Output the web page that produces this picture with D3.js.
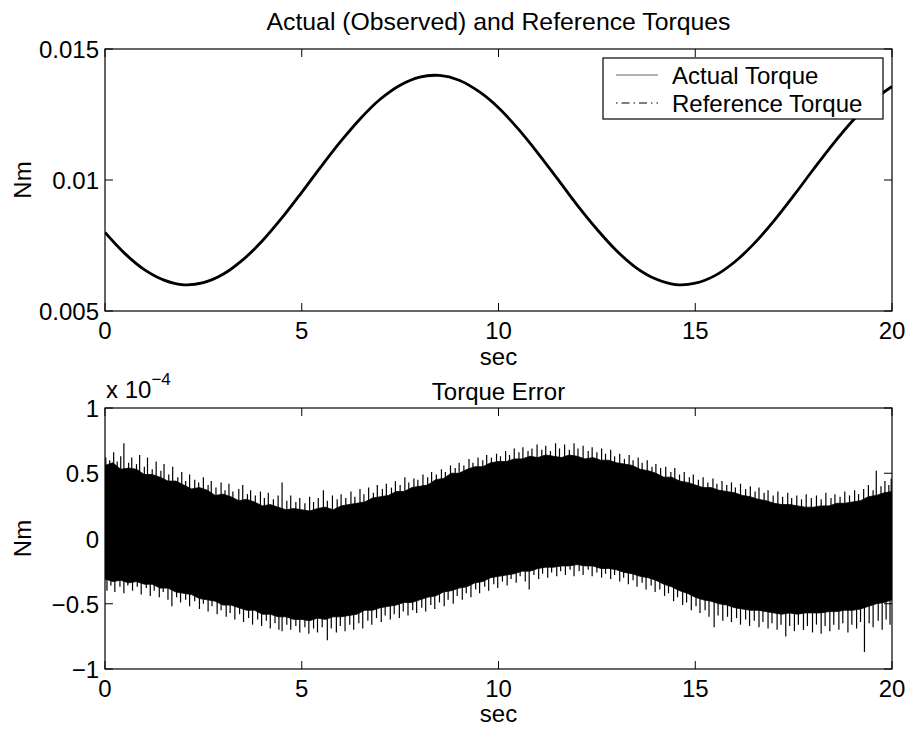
<!DOCTYPE html>
<html><head><meta charset="utf-8">
<script src="https://cdn.jsdelivr.net/npm/d3@7"></script>
<style>
html,body{margin:0;padding:0;background:#fff;}
svg text{font-family:"Liberation Sans",Arial,Helvetica,sans-serif;fill:#000;}
</style></head>
<body>
<svg id="chart" width="910" height="729"></svg>
<script>
// ---------- DATA ----------
const torqueTime = [0,0.5,1,1.5,2,2.5,3,3.5,4,4.5,5,5.5,6,6.5,7,7.5,8,8.5,9,9.5,10,10.5,11,11.5,12,12.5,13,13.5,14,14.5,15,15.5,16,16.5,17,17.5,18,18.5,19,19.5,20];
const actualTorque = [0.00800,0.00720,0.00658,0.00618,0.00600,0.00608,0.00640,0.00695,0.00768,0.00856,0.00953,0.01053,0.01149,0.01236,0.01309,0.01362,0.01393,0.01399,0.01381,0.01338,0.01276,0.01195,0.01103,0.01004,0.00904,0.00812,0.00730,0.00665,0.00622,0.00601,0.00606,0.00635,0.00687,0.00758,0.00844,0.00940,0.01040,0.01137,0.01226,0.01301,0.01357];
const referenceTorque = [0.00800,0.00720,0.00658,0.00618,0.00600,0.00608,0.00640,0.00695,0.00768,0.00856,0.00953,0.01053,0.01149,0.01236,0.01309,0.01362,0.01393,0.01399,0.01381,0.01338,0.01276,0.01195,0.01103,0.01004,0.00904,0.00812,0.00730,0.00665,0.00622,0.00601,0.00606,0.00635,0.00687,0.00758,0.00844,0.00940,0.01040,0.01137,0.01226,0.01301,0.01357];

// Torque error dense band edges (units of 1e-4 Nm), sampled every 0.2 s
const errorTimeStep = 0.2;
const errorUpper = [0.56,0.58,0.53,0.54,0.53,0.49,0.49,0.47,0.44,0.44,0.41,0.38,0.39,0.37,0.33,0.34,0.32,0.29,0.30,0.28,0.25,0.26,0.24,0.22,0.23,0.22,0.21,0.23,0.24,0.22,0.25,0.26,0.27,0.28,0.31,0.32,0.33,0.36,0.36,0.39,0.40,0.41,0.45,0.46,0.50,0.50,0.53,0.55,0.55,0.58,0.59,0.59,0.61,0.61,0.63,0.62,0.64,0.63,0.62,0.64,0.63,0.61,0.62,0.60,0.60,0.58,0.57,0.56,0.53,0.52,0.50,0.47,0.47,0.44,0.43,0.41,0.39,0.39,0.37,0.36,0.35,0.33,0.32,0.30,0.29,0.27,0.26,0.26,0.25,0.24,0.24,0.25,0.25,0.27,0.27,0.28,0.29,0.32,0.33,0.35,0.36];
const errorLower = [-0.31,-0.33,-0.32,-0.34,-0.33,-0.35,-0.35,-0.38,-0.38,-0.41,-0.42,-0.43,-0.46,-0.47,-0.48,-0.51,-0.51,-0.53,-0.55,-0.55,-0.58,-0.58,-0.60,-0.60,-0.62,-0.62,-0.63,-0.61,-0.62,-0.60,-0.60,-0.59,-0.58,-0.55,-0.55,-0.53,-0.52,-0.51,-0.49,-0.49,-0.47,-0.45,-0.44,-0.41,-0.40,-0.38,-0.37,-0.34,-0.33,-0.30,-0.29,-0.28,-0.27,-0.25,-0.25,-0.23,-0.22,-0.22,-0.21,-0.21,-0.20,-0.21,-0.21,-0.23,-0.23,-0.24,-0.26,-0.27,-0.29,-0.30,-0.32,-0.35,-0.37,-0.40,-0.42,-0.45,-0.47,-0.48,-0.50,-0.51,-0.53,-0.54,-0.55,-0.55,-0.56,-0.57,-0.58,-0.57,-0.58,-0.57,-0.57,-0.57,-0.56,-0.56,-0.55,-0.55,-0.54,-0.52,-0.50,-0.49,-0.47];

// Individual spikes reaching beyond the dense band
const spikeUpTime = [0.02,0.12,0.22,0.31,0.40,0.48,0.60,0.68,0.80,0.88,1.00,1.08,1.20,1.30,1.42,1.50,1.62,1.72,1.85,1.95,2.05,2.15,2.28,2.38,2.50,2.62,2.70,2.82,2.95,3.05,3.15,3.25,3.40,3.50,3.62,3.70,3.82,3.95,4.05,4.15,4.28,4.40,4.50,4.62,4.72,4.85,4.95,5.08,5.20,5.30,5.42,5.55,5.65,5.78,5.90,6.00,6.12,6.25,6.35,6.48,6.58,6.70,6.82,6.92,7.05,7.15,7.28,7.38,7.50,7.62,7.72,7.85,7.95,8.08,8.20,8.30,8.42,8.55,8.65,8.78,8.90,9.00,9.12,9.25,9.35,9.48,9.60,9.70,9.82,9.95,10.05,10.18,10.28,10.40,10.52,10.62,10.75,10.85,10.98,11.10,11.20,11.32,11.45,11.55,11.68,11.80,11.92,12.02,12.15,12.28,12.38,12.50,12.62,12.72,12.85,12.95,13.08,13.20,13.32,13.42,13.55,13.65,13.78,13.90,14.00,14.12,14.25,14.38,14.48,14.60,14.72,14.85,14.95,15.08,15.20,15.32,15.45,15.55,15.68,15.80,15.92,16.02,16.15,16.28,16.40,16.52,16.62,16.75,16.85,16.98,17.10,17.22,17.35,17.45,17.58,17.70,17.82,17.95,18.08,18.20,18.32,18.45,18.55,18.68,18.80,18.92,19.05,19.15,19.28,19.40,19.52,19.60,19.72,19.82,19.92,19.98];
const spikeUpValue = [0.62,0.60,0.66,0.59,0.63,0.73,0.58,0.62,0.57,0.64,0.55,0.62,0.53,0.59,0.52,0.57,0.49,0.55,0.47,0.51,0.44,0.49,0.45,0.43,0.47,0.41,0.44,0.39,0.43,0.37,0.42,0.36,0.38,0.41,0.34,0.37,0.33,0.36,0.31,0.35,0.30,0.33,0.43,0.29,0.33,0.28,0.31,0.27,0.32,0.28,0.31,0.37,0.29,0.33,0.30,0.34,0.31,0.36,0.32,0.38,0.34,0.39,0.35,0.41,0.38,0.42,0.39,0.44,0.41,0.47,0.43,0.46,0.45,0.49,0.47,0.51,0.49,0.53,0.51,0.56,0.54,0.58,0.56,0.61,0.58,0.62,0.60,0.64,0.62,0.65,0.63,0.67,0.64,0.69,0.66,0.70,0.67,0.69,0.72,0.68,0.71,0.67,0.73,0.69,0.72,0.68,0.73,0.69,0.71,0.67,0.70,0.66,0.69,0.65,0.68,0.63,0.65,0.61,0.64,0.60,0.62,0.58,0.60,0.55,0.57,0.54,0.55,0.51,0.54,0.49,0.51,0.47,0.49,0.45,0.47,0.43,0.46,0.42,0.44,0.41,0.43,0.39,0.42,0.38,0.40,0.36,0.39,0.35,0.37,0.33,0.36,0.32,0.35,0.31,0.33,0.30,0.34,0.31,0.33,0.30,0.35,0.31,0.34,0.32,0.36,0.33,0.37,0.34,0.38,0.41,0.37,0.52,0.40,0.44,0.41,0.46];
const spikeDownTime = [0.05,0.15,0.25,0.38,0.48,0.58,0.70,0.82,0.92,1.05,1.15,1.25,1.38,1.48,1.60,1.70,1.82,1.92,2.05,2.15,2.28,2.40,2.50,2.62,2.72,2.85,2.95,3.08,3.18,3.30,3.42,3.52,3.65,3.75,3.88,3.98,4.10,4.20,4.32,4.42,4.50,4.62,4.72,4.85,4.95,5.08,5.18,5.30,5.40,5.52,5.65,5.75,5.88,5.98,6.10,6.22,6.32,6.45,6.55,6.68,6.78,6.90,7.02,7.12,7.25,7.35,7.48,7.58,7.70,7.82,7.92,8.05,8.15,8.28,8.38,8.50,8.62,8.72,8.85,8.95,9.08,9.18,9.30,9.42,9.52,9.65,9.75,9.88,9.98,10.10,10.22,10.32,10.45,10.55,10.68,10.78,10.90,11.02,11.12,11.25,11.35,11.48,11.58,11.70,11.82,11.92,12.05,12.15,12.28,12.38,12.50,12.62,12.72,12.85,12.95,13.08,13.18,13.30,13.42,13.52,13.65,13.75,13.88,13.98,14.10,14.22,14.32,14.45,14.55,14.68,14.78,14.90,15.02,15.12,15.25,15.35,15.48,15.58,15.70,15.82,15.92,16.05,16.15,16.28,16.38,16.50,16.62,16.72,16.85,16.95,17.08,17.18,17.30,17.40,17.52,17.62,17.75,17.85,17.98,18.08,18.20,18.30,18.42,18.52,18.65,18.75,18.88,18.98,19.10,19.20,19.30,19.42,19.52,19.65,19.75,19.85,19.95];
const spikeDownValue = [-0.40,-0.36,-0.41,-0.37,-0.42,-0.36,-0.40,-0.37,-0.43,-0.38,-0.44,-0.40,-0.45,-0.41,-0.47,-0.52,-0.45,-0.49,-0.47,-0.52,-0.48,-0.54,-0.50,-0.56,-0.52,-0.58,-0.55,-0.60,-0.57,-0.62,-0.58,-0.64,-0.61,-0.66,-0.62,-0.67,-0.63,-0.69,-0.65,-0.70,-0.71,-0.66,-0.70,-0.67,-0.72,-0.68,-0.73,-0.69,-0.72,-0.68,-0.78,-0.69,-0.72,-0.67,-0.71,-0.66,-0.70,-0.65,-0.69,-0.63,-0.66,-0.61,-0.64,-0.59,-0.62,-0.58,-0.61,-0.56,-0.59,-0.55,-0.57,-0.53,-0.56,-0.51,-0.54,-0.49,-0.52,-0.47,-0.50,-0.44,-0.47,-0.42,-0.45,-0.39,-0.42,-0.37,-0.40,-0.35,-0.38,-0.33,-0.36,-0.31,-0.34,-0.29,-0.33,-0.39,-0.28,-0.31,-0.27,-0.30,-0.26,-0.29,-0.25,-0.28,-0.24,-0.29,-0.25,-0.28,-0.24,-0.29,-0.26,-0.30,-0.27,-0.31,-0.28,-0.33,-0.30,-0.35,-0.32,-0.37,-0.34,-0.39,-0.36,-0.41,-0.39,-0.44,-0.42,-0.48,-0.45,-0.51,-0.49,-0.55,-0.52,-0.57,-0.55,-0.60,-0.68,-0.59,-0.63,-0.60,-0.64,-0.61,-0.66,-0.62,-0.67,-0.63,-0.68,-0.64,-0.69,-0.65,-0.70,-0.66,-0.75,-0.67,-0.71,-0.66,-0.70,-0.67,-0.72,-0.66,-0.73,-0.67,-0.71,-0.66,-0.70,-0.65,-0.72,-0.66,-0.69,-0.64,-0.87,-0.65,-0.68,-0.63,-0.70,-0.62,-0.66];

const xTicks = [0,5,10,15,20];
const topYTicks = [0.005,0.01,0.015];
const topYTickLabels = ["0.005","0.01","0.015"];
const bottomYTicks = [-1,-0.5,0,0.5,1];
const bottomYTickLabels = ["\u22121","\u22120.5","0","0.5","1"];
const legendLabels = ["Actual Torque","Reference Torque"];

// ---------- LAYOUT ----------
const svg = d3.select("#chart");
const L = 105, R = 892;
const box1 = {t:49, b:311};
const box2 = {t:408, b:669};
const FS = 24;
const tickLen = 8;

function frame(g, x, y, yt, ytl, box){
  xTicks.forEach(v=>{
    g.append("line").attr("x1",x(v)).attr("x2",x(v)).attr("y1",box.b).attr("y2",box.b-tickLen).attr("stroke","#000");
    g.append("line").attr("x1",x(v)).attr("x2",x(v)).attr("y1",box.t).attr("y2",box.t+tickLen).attr("stroke","#000");
    g.append("text").attr("x",x(v)).attr("y",box.b+28).attr("text-anchor","middle").attr("font-size",FS).text(String(v));
  });
  yt.forEach((v,i)=>{
    g.append("line").attr("x1",L).attr("x2",L+tickLen).attr("y1",y(v)).attr("y2",y(v)).attr("stroke","#000");
    g.append("line").attr("x1",R).attr("x2",R-tickLen).attr("y1",y(v)).attr("y2",y(v)).attr("stroke","#000");
    g.append("text").attr("x",L-6).attr("y",y(v)+9).attr("text-anchor","end").attr("font-size",FS).text(ytl[i]);
  });
  g.append("rect").attr("x",L).attr("y",box.t).attr("width",R-L).attr("height",box.b-box.t)
    .attr("fill","none").attr("stroke","#000").attr("stroke-width",1.2);
}

const defs = svg.append("defs");

// ---------- TOP PLOT ----------
const x1 = d3.scaleLinear().domain([0,20]).range([L,R]);
const y1 = d3.scaleLinear().domain([0.005,0.015]).range([box1.b,box1.t]);
const g1 = svg.append("g");
defs.append("clipPath").attr("id","clip1").append("rect").attr("x",L).attr("y",box1.t).attr("width",R-L).attr("height",box1.b-box1.t);
const line1 = d3.line().x((d,i)=>x1(torqueTime[i])).y(d=>y1(d)).curve(d3.curveCatmullRom);
g1.append("path").attr("d",line1(actualTorque)).attr("fill","none").attr("stroke","#000").attr("stroke-width",2.8).attr("clip-path","url(#clip1)");
g1.append("path").attr("d",line1(referenceTorque)).attr("fill","none").attr("stroke","#000").attr("stroke-width",1.6)
  .attr("stroke-dasharray","8,3,1.5,3").attr("clip-path","url(#clip1)");
frame(g1,x1,y1,topYTicks,topYTickLabels,box1);
g1.append("text").attr("x",(L+R)/2).attr("y",30).attr("text-anchor","middle").attr("font-size",24.8).text("Actual (Observed) and Reference Torques");
g1.append("text").attr("x",(L+R)/2).attr("y",365).attr("text-anchor","middle").attr("font-size",FS).text("sec");
g1.append("text").attr("transform",`translate(31,${(box1.t+box1.b)/2}) rotate(-90)`).attr("text-anchor","middle").attr("font-size",FS).text("Nm");

// legend
const lg = g1.append("g");
lg.append("rect").attr("x",603).attr("y",58).attr("width",280).attr("height",61).attr("fill","#fff").attr("stroke","#000").attr("stroke-width",1.2);
const legY = [75,103];
lg.append("line").attr("x1",616).attr("x2",658).attr("y1",legY[0]).attr("y2",legY[0]).attr("stroke","#666").attr("stroke-width",1.2);
lg.append("line").attr("x1",616).attr("x2",658).attr("y1",legY[1]).attr("y2",legY[1]).attr("stroke","#000").attr("stroke-width",1.2).attr("stroke-dasharray","1.5,4,8,4");
legendLabels.forEach((t,i)=>{
  lg.append("text").attr("x",672).attr("y",legY[i]+8.5).attr("font-size",FS).text(t);
});

// ---------- BOTTOM PLOT ----------
const x2 = d3.scaleLinear().domain([0,20]).range([L,R]);
const y2 = d3.scaleLinear().domain([-1,1]).range([box2.b,box2.t]);
const g2 = svg.append("g");
defs.append("clipPath").attr("id","clip2").append("rect").attr("x",L).attr("y",box2.t).attr("width",R-L).attr("height",box2.b-box2.t);
const band = g2.append("g").attr("clip-path","url(#clip2)");
const area = d3.area().x((d,i)=>x2(i*errorTimeStep)).y0((d,i)=>y2(errorLower[i])).y1(d=>y2(d));
band.append("path").attr("d",area(errorUpper)).attr("fill","#000").attr("stroke","#000").attr("stroke-width",0.8);
spikeUpTime.forEach((t,i)=>{
  band.append("line").attr("x1",x2(t)).attr("x2",x2(t)).attr("y1",y2(0)).attr("y2",y2(spikeUpValue[i])).attr("stroke","#000").attr("stroke-width",1.2);
});
spikeDownTime.forEach((t,i)=>{
  band.append("line").attr("x1",x2(t)).attr("x2",x2(t)).attr("y1",y2(0)).attr("y2",y2(spikeDownValue[i])).attr("stroke","#000").attr("stroke-width",1.2);
});
frame(g2,x2,y2,bottomYTicks,bottomYTickLabels,box2);
g2.append("text").attr("x",(L+R)/2).attr("y",400).attr("text-anchor","middle").attr("font-size",FS).text("Torque Error");
g2.append("text").attr("x",(L+R)/2).attr("y",722).attr("text-anchor","middle").attr("font-size",FS).text("sec");
g2.append("text").attr("transform",`translate(31,${(box2.t+box2.b)/2}) rotate(-90)`).attr("text-anchor","middle").attr("font-size",FS).text("Nm");
const ex = g2.append("text").attr("x",106).attr("y",398).attr("font-size",FS);
ex.append("tspan").text("x 10");
ex.append("tspan").attr("dy",-13).attr("font-size",17).text("\u22124");
</script>
</body></html>
